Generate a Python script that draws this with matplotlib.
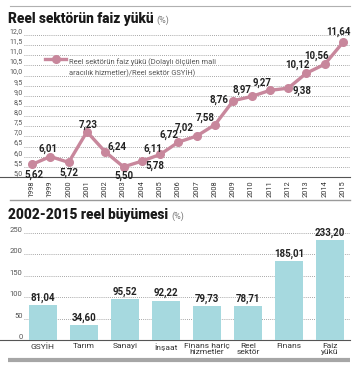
import matplotlib
matplotlib.use('Agg')
import matplotlib.pyplot as plt
from matplotlib.lines import Line2D

plt.rcParams['font.family'] = ['Roboto', 'DejaVu Sans']

# Reel sektörün faiz yükü (%)
years = [1998, 1999, 2000, 2001, 2002, 2003, 2004, 2005, 2006,
         2007, 2008, 2009, 2010, 2011, 2012, 2013, 2014, 2015]
faiz = [5.62, 6.01, 5.72, 7.23, 6.24, 5.50, 5.78, 6.11, 6.72,
        7.02, 7.58, 8.76, 8.97, 9.27, 9.38, 10.12, 10.56, 11.64]
line_ticks = [5.0, 5.5, 6.0, 6.5, 7.0, 7.5, 8.0, 8.5, 9.0, 9.5,
              10.0, 10.5, 11.0, 11.5, 12.0]

# 2002-2015 reel büyümesi (%)
sectors = ['GSYİH', 'Tarım', 'Sanayi', 'İnşaat', 'Finans hariç\nhizmetler',
           'Reel\nsektör', 'Finans', 'Faiz\nyükü']
growth = [81.04, 34.60, 95.52, 92.22, 79.73, 78.71, 185.01, 233.20]
bar_ticks = [0, 50, 100, 150, 200, 250]

# label offsets (pixels) for line values
offsets = [(2, -10), (-2, 8), (0, -10), (1, 7), (12, 5), (0, -9), (13, -5),
           (-7, 6), (-9, 7), (-12, 8), (-10, 7), (-14, 1), (-10, 7), (-8, 8),
           (14, -3), (-9, 8), (-8, 8), (-5, 10)]

W, H = 364, 368
LINE_C = '#c8879c'
BAR_C = '#a6d9df'
GRID_C = '#8a8a8a'


def tr(v):
    return f'{v:.2f}'.replace('.', ',')


fig = plt.figure(figsize=(W / 100, H / 100), dpi=100)
renderer = fig.canvas.get_renderer()

# decoration lines
fig.add_artist(Line2D([10 / W, 350 / W], [1 - 6 / H, 1 - 6 / H], color='#b0b0b0', lw=0.8))
fig.add_artist(Line2D([10 / W, 350 / W], [1 - 200 / H, 1 - 200 / H], color='#9a9a9a', lw=1.0))
fig.add_artist(Line2D([8 / W, 350 / W], [1 - 360 / H, 1 - 360 / H], color='#a6a6a6', lw=3.0,
                      solid_capstyle='butt'))


def title(y, txt):
    t = fig.text(8 / W, 1 - y / H, txt, fontsize=9.8, fontweight='black',
                 color='#1a1a1a', va='baseline')
    bb = t.get_window_extent(renderer)
    fig.text((bb.x1 + 3) / W, 1 - y / H, '(%)', fontsize=6.5, color='#777777',
             va='baseline')


title(23, 'Reel sektörün faiz yükü')
title(219, '2002-2015 reel büyümesi')

# ---- line chart
ax = fig.add_axes([24 / W, 1 - 177 / H, 326 / W, 142 / H])
ax.set_xlim(1997.56, 2015.38)
ax.set_ylim(5.0, 12.0)
for s in ax.spines.values():
    s.set_visible(False)
for v in line_ticks[1:]:
    ax.axhline(v, color=GRID_C, lw=0.6, ls=(0, (1, 1.5)), zorder=0)
ax.axhline(5.0, xmin=-0.074, xmax=1, color='#555555', lw=0.8, clip_on=False)

ax.plot(years, faiz, color=LINE_C, lw=2.4, marker='o', ms=5.5, zorder=3)
for x, v, (dx, dy) in zip(years, faiz, offsets):
    ax.annotate(tr(v), (x, v), xytext=(dx, dy), textcoords='offset pixels',
                ha='center', va='center', fontsize=7, fontweight='bold',
                color='#222222', zorder=4)

ax.set_yticks(line_ticks)
ax.set_yticklabels([f'{v:.1f}'.replace('.', ',') for v in line_ticks])
ax.set_xticks(years)
ax.set_xticklabels([str(y) for y in years], rotation=90)
ax.tick_params(axis='y', length=0, pad=1, labelsize=5, labelcolor='#555555')
ax.tick_params(axis='x', length=0, pad=2.5, labelsize=5.3, labelcolor='#333333')
for lab in ax.get_yticklabels():
    lab.set_va('bottom')

# legend
ax.add_line(Line2D([0.065, 0.0975, 0.13], [0.832, 0.832, 0.832], transform=ax.transAxes,
                   color=LINE_C, lw=2.4, marker='o', ms=5.5, markevery=[1]))
ax.text(0.138, 0.835, 'Reel sektörün faiz yükü (Dolaylı ölçülen mali\n'
        'aracılık hizmetler)/Reel sektör GSYİH)', transform=ax.transAxes,
        fontsize=5.4, color='#555555', va='top', ha='left', linespacing=1.3)

# ---- bar chart
bx = fig.add_axes([24 / W, 1 - 340 / H, 326 / W, 107 / H])
pos = list(range(len(sectors)))
bx.set_xlim(-0.463, 7.49)
bx.set_ylim(0, 250)
for s in bx.spines.values():
    s.set_visible(False)
for v in bar_ticks[1:]:
    bx.axhline(v, color=GRID_C, lw=0.6, ls=(0, (1, 1.5)), zorder=0)
bx.axhline(0, xmin=-0.074, xmax=1, color='#555555', lw=0.8, clip_on=False)
bars = bx.bar(pos, growth, width=0.69, color=BAR_C, zorder=2)
bx.bar_label(bars, labels=[tr(v) for v in growth], padding=1.5, fontsize=7,
             fontweight='bold', color='#222222')
bx.set_yticks(bar_ticks)
bx.set_yticklabels([str(v) for v in bar_ticks])
bx.set_xticks(pos)
bx.set_xticklabels(sectors, linespacing=1.0)
bx.tick_params(axis='y', length=0, pad=1, labelsize=5.5, labelcolor='#555555')
bx.tick_params(axis='x', length=0, pad=2, labelsize=6, labelcolor='#333333')
for lab in bx.get_yticklabels():
    lab.set_va('bottom')

fig.savefig('out.png', dpi=100)
